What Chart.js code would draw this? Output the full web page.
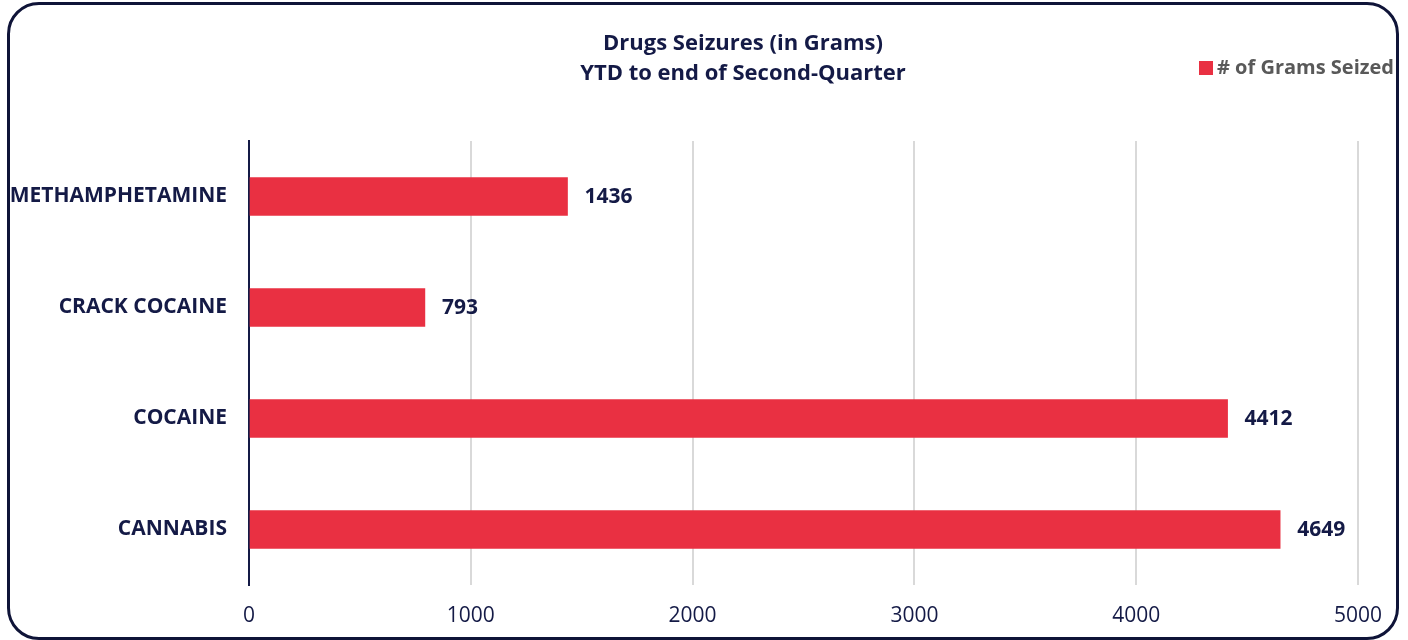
<!DOCTYPE html>
<html>
<head>
<meta charset="utf-8">
<script src="https://cdn.jsdelivr.net/npm/chart.js@4/dist/chart.umd.min.js"></script>
<style>
  html, body { margin: 0; padding: 0; background: #fff; }
  #wrap { position: relative; width: 1408px; height: 640px; }
  #frame {
    position: absolute; left: 7px; top: 2px; width: 1386px; height: 632px;
    border: 3px solid #0f1438; border-radius: 32px; pointer-events: none;
  }
</style>
</head>
<body>
<div id="wrap">
  <canvas id="myChart" width="1408" height="640"></canvas>
  <div id="frame"></div>
</div>
<script>
// Drug categories, top to bottom
var drugs = ["METHAMPHETAMINE", "CRACK COCAINE", "COCAINE", "CANNABIS"];
// Grams seized per drug
var grams = [1436, 793, 4412, 4649];
// x-axis ticks
var xTicks = [0, 1000, 2000, 3000, 4000, 5000];
// title lines
var titleLines = ["Drugs Seizures (in Grams)", "YTD to end of Second-Quarter"];

var navy = "#141a46";
var red = "#e93042";
var fontFamily = "'Open Sans', 'Noto Sans', sans-serif";

// value labels at the end of each bar
var barLabels = {
  id: "barLabels",
  afterDatasetsDraw: function(chart) {
    var ctx = chart.ctx;
    var meta = chart.getDatasetMeta(0);
    ctx.save();
    ctx.font = "bold 21px " + fontFamily;
    ctx.fillStyle = navy;
    ctx.textAlign = "left";
    ctx.textBaseline = "middle";
    meta.data.forEach(function(bar, i) {
      ctx.fillText(chart.data.datasets[0].data[i], bar.x + 17, bar.y + 1);
    });
    ctx.restore();
  }
};

// title (shifted left of centre) and legend top right, like the original
var header = {
  id: "header",
  afterDraw: function(chart) {
    var ctx = chart.ctx;
    ctx.save();
    ctx.font = "bold 22px " + fontFamily;
    ctx.fillStyle = navy;
    ctx.textAlign = "center";
    ctx.textBaseline = "middle";
    ctx.fillText(titleLines[0], 743, 44);
    ctx.fillText(titleLines[1], 743, 74);

    ctx.fillStyle = red;
    ctx.fillRect(1199, 61, 14, 14);
    ctx.font = "bold 20px " + fontFamily;
    ctx.fillStyle = "#595959";
    ctx.textAlign = "left";
    ctx.fillText(chart.data.datasets[0].label, 1217, 68);
    ctx.restore();
  }
};

var ctx = document.getElementById("myChart");
var myChart = new Chart(ctx, {
  type: "bar",
  data: {
    labels: drugs,
    datasets: [
      {
        label: "# of Grams Seized",
        data: grams,
        backgroundColor: red,
        barThickness: 38
      }
    ]
  },
  options: {
    indexAxis: "y",
    responsive: false,
    animation: false,
    layout: { padding: { left: 8, right: 50, top: 141, bottom: 0 } },
    plugins: {
      legend: { display: false },
      tooltip: { enabled: false },
      title: { display: false }
    },
    scales: {
      x: {
        min: 0,
        max: 5000,
        afterBuildTicks: function(axis) {
          axis.ticks = xTicks.map(function(v) { return { value: v }; });
        },
        afterFit: function(axis) { axis.height = 55; },
        border: { display: false },
        grid: { color: "#d9d9d9", lineWidth: 2, drawTicks: false },
        ticks: {
          color: navy,
          padding: 18,
          font: { family: fontFamily, size: 21 },
          callback: function(v) { return String(v); }
        }
      },
      y: {
        afterFit: function(axis) { axis.width = 241; },
        border: { display: true, color: navy, width: 2 },
        grid: { display: false, drawTicks: false },
        ticks: {
          color: navy,
          padding: 22,
          font: { family: fontFamily, size: 21, weight: "bold" }
        }
      }
    }
  },
  plugins: [barLabels, header]
});
</script>
</body>
</html>
